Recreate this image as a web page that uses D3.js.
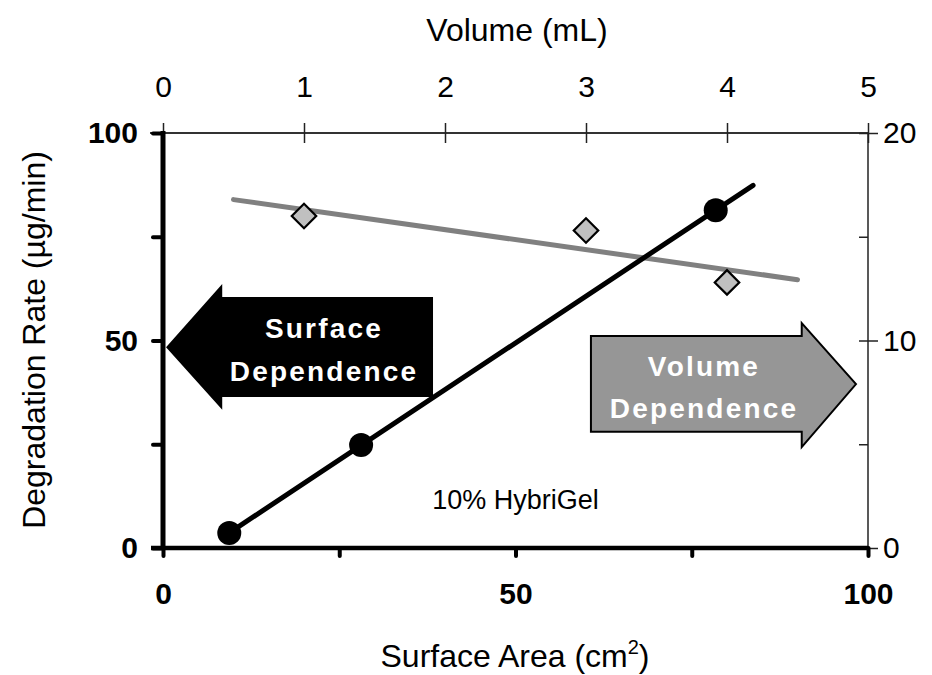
<!DOCTYPE html>
<html>
<head>
<meta charset="utf-8">
<script src="https://cdn.jsdelivr.net/npm/d3@7/dist/d3.min.js"></script>
<style>
  html, body { margin: 0; padding: 0; background: #fff; }
  svg { display: block; font-family: "Liberation Sans", Arial, sans-serif; }
</style>
</head>
<body>
<svg id="chart" width="932" height="675"></svg>
<script>
// Degradation rate vs. surface area (circles, left/bottom axes)
const surfaceArea = [9.4, 28.1, 78.4];           // cm^2
const surfaceRate = [3.6, 24.8, 81.4];           // µg/min
// Degradation rate vs. volume (diamonds, right/top axes)
const volume = [1, 3, 4];                         // mL
const volumeRate = [16.0, 15.3, 12.8];            // µg/min
// Extent of each trend line
const surfaceFitRange = [9.4, 83.7];
const volumeFitRange = [0.5, 4.5];

const surfaceTicks = [0, 25, 50, 75, 100];
const surfaceTickLabels = [0, 50, 100];
const rateTicks = [0, 25, 50, 75, 100];
const rateTickLabels = [0, 50, 100];
const volumeTicks = [0, 1, 2, 3, 4, 5];
const rightTicks = [0, 5, 10, 15, 20];
const rightTickLabels = [0, 10, 20];

const svg = d3.select("#chart");
const plotLeft = 163, plotRight = 868, plotTop = 133, plotBottom = 548;

const x = d3.scaleLinear().domain([0, 100]).range([plotLeft, plotRight]);
const xTop = d3.scaleLinear().domain([0, 5]).range([plotLeft, plotRight]);
const y = d3.scaleLinear().domain([0, 100]).range([plotBottom, plotTop]);
const yRight = d3.scaleLinear().domain([0, 20]).range([plotBottom, plotTop]);

// least-squares line
function fit(xs, ys) {
  const mx = d3.mean(xs), my = d3.mean(ys);
  let sxy = 0, sxx = 0;
  xs.forEach((v, i) => { sxy += (v - mx) * (ys[i] - my); sxx += (v - mx) * (v - mx); });
  const slope = sxy / sxx;
  return v => my + slope * (v - mx);
}

const FONT = "'Liberation Sans', Arial, sans-serif";

// ---- top axis (volume)
const gTop = svg.append("g").attr("transform", `translate(0,${plotTop})`)
  .call(d3.axisTop(xTop).tickValues(volumeTicks).tickSize(10).tickFormat(d3.format("d")));
gTop.select(".domain").attr("stroke", "#333").attr("stroke-width", 2).attr("d", `M${plotLeft - 13},0H${plotRight}`);
gTop.selectAll(".tick line").attr("stroke", "#222").attr("stroke-width", 1.5).attr("y1", 10).attr("y2", -10);
gTop.selectAll(".tick text").attr("font-size", 30).attr("fill", "#000").attr("y", -36)
  .attr("font-family", FONT);

// ---- right axis
const gRight = svg.append("g").attr("transform", `translate(${plotRight},0)`)
  .call(d3.axisRight(yRight).tickValues(rightTicks).tickSize(9)
    .tickFormat(d => rightTickLabels.includes(d) ? d : ""));
gRight.select(".domain").attr("stroke", "#222").attr("stroke-width", 1.5).attr("d", `M0,${plotBottom}V${plotTop}`);
gRight.selectAll(".tick line").attr("stroke", "#222").attr("stroke-width", 1.5)
  .attr("x1", -9)
  .attr("x2", d => rightTickLabels.includes(d) ? 10 : 0);
gRight.selectAll(".tick text").attr("font-size", 30).attr("fill", "#000").attr("x", 15)
  .attr("font-family", FONT);

// ---- trend lines
const volFit = fit(volume, volumeRate);
svg.append("line")
  .attr("x1", xTop(volumeFitRange[0])).attr("y1", yRight(volFit(volumeFitRange[0])))
  .attr("x2", xTop(volumeFitRange[1])).attr("y2", yRight(volFit(volumeFitRange[1])))
  .attr("stroke", "#808080").attr("stroke-width", 5).attr("stroke-linecap", "round");

const surfFit = fit(surfaceArea, surfaceRate);
svg.append("line")
  .attr("x1", x(surfaceFitRange[0])).attr("y1", y(surfFit(surfaceFitRange[0])))
  .attr("x2", x(surfaceFitRange[1])).attr("y2", y(surfFit(surfaceFitRange[1])))
  .attr("stroke", "#000").attr("stroke-width", 5).attr("stroke-linecap", "round");

// ---- diamonds
svg.append("g").selectAll("path").data(volume).join("path")
  .attr("d", d3.symbol().type(d3.symbolSquare).size(300))
  .attr("transform", (d, i) => `translate(${xTop(d)},${yRight(volumeRate[i])}) rotate(45)`)
  .attr("fill", "#c0c0c0").attr("stroke", "#000").attr("stroke-width", 2.2);

// ---- circles
svg.append("g").selectAll("circle").data(surfaceArea).join("circle")
  .attr("cx", d => x(d)).attr("cy", (d, i) => y(surfaceRate[i])).attr("r", 12)
  .attr("fill", "#000");

// ---- block arrows
function arrowPath(tipX, headBaseX, tailX, bodyTop, bodyBot, headTop, headBot, tipY) {
  return `M${tipX},${tipY}L${headBaseX},${headTop}L${headBaseX},${bodyTop}L${tailX},${bodyTop}` +
         `L${tailX},${bodyBot}L${headBaseX},${bodyBot}L${headBaseX},${headBot}Z`;
}
svg.append("path")
  .attr("d", arrowPath(x(0.43), x(8.4), x(38.3), y(60.5), y(36.4), y(63.6), y(33.3), y(48.4)))
  .attr("fill", "#000");
svg.append("path")
  .attr("d", arrowPath(x(98.3), x(90.6), x(60.7), y(51.1), y(28.0), y(54.2), y(24.3), y(39.5)))
  .attr("fill", "#969696").attr("stroke", "#000").attr("stroke-width", 2).attr("stroke-linejoin", "miter");

function arrowLabel(cx, lines, baselines) {
  lines.forEach((t, i) => {
    svg.append("text").attr("x", cx).attr("y", baselines[i]).attr("text-anchor", "middle")
      .attr("font-size", 28).attr("font-weight", "bold").attr("letter-spacing", 2.2)
      .attr("fill", "#fff").text(t);
  });
}
arrowLabel(324, ["Surface", "Dependence"], [338, 381]);
arrowLabel(704, ["Volume", "Dependence"], [376, 418]);

// ---- left axis
const gLeft = svg.append("g").attr("transform", `translate(${plotLeft},0)`)
  .call(d3.axisLeft(y).tickValues(rateTicks).tickSize(10)
    .tickFormat(d => rateTickLabels.includes(d) ? d : ""));
gLeft.select(".domain").attr("stroke", "#000").attr("stroke-width", 5).attr("d", `M0,${plotBottom + 2}V${plotTop - 2}`);
gLeft.selectAll(".tick line").attr("stroke", "#000").attr("stroke-width", 4).attr("stroke-linecap", "round");
gLeft.selectAll(".tick text").attr("font-size", 30).attr("font-weight", "bold").attr("fill", "#000")
  .attr("x", -25).attr("font-family", FONT);

// ---- bottom axis
const gBottom = svg.append("g").attr("transform", `translate(0,${plotBottom})`)
  .call(d3.axisBottom(x).tickValues(surfaceTicks).tickSize(8)
    .tickFormat(d => surfaceTickLabels.includes(d) ? d : ""));
gBottom.select(".domain").attr("stroke", "#000").attr("stroke-width", 4.5).attr("d", `M${plotLeft - 12},0H${plotRight}`);
gBottom.selectAll(".tick line").attr("stroke", "#000").attr("stroke-width", 4).attr("stroke-linecap", "round");
gBottom.selectAll(".tick text").attr("font-size", 30).attr("font-weight", "bold").attr("fill", "#000")
  .attr("y", 35).attr("font-family", FONT);

// ---- titles and annotation
svg.append("text").attr("x", 517).attr("y", 41).attr("text-anchor", "middle")
  .attr("font-size", 32).text("Volume (mL)");
const xt = svg.append("text").attr("x", 515).attr("y", 667).attr("text-anchor", "middle")
  .attr("font-size", 32);
xt.append("tspan").text("Surface Area (cm");
xt.append("tspan").attr("font-size", 20).attr("dy", -13).text("2");
xt.append("tspan").attr("dy", 13).text(")");
svg.append("text").attr("transform", "translate(45,340) rotate(-90)").attr("text-anchor", "middle")
  .attr("font-size", 32).text("Degradation Rate (µg/min)");
svg.append("text").attr("x", x(50)).attr("y", 509).attr("text-anchor", "middle")
  .attr("font-size", 27).text("10% HybriGel");
</script>
</body>
</html>
